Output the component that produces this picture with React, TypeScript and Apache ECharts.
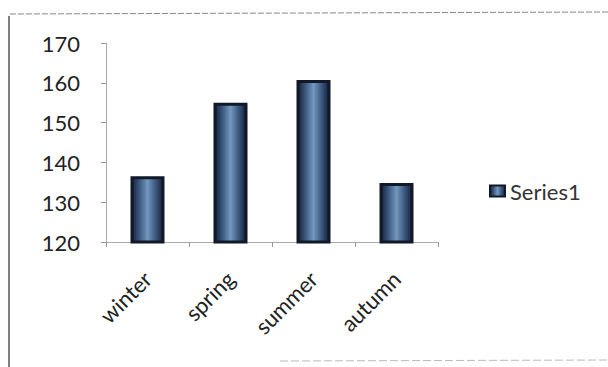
import React, { useEffect, useRef } from "react";
import * as echarts from "echarts";

const categories = ["winter", "spring", "summer", "autumn"];
const series1 = [136.5, 155, 160.7, 134.8];
const yTicks = { min: 120, max: 170, interval: 10 };
const seriesName = "Series1";

export default function App() {
  const ref = useRef<HTMLDivElement>(null);
  useEffect(() => {
    if (!ref.current) return;
    const chart = echarts.init(ref.current, null, { renderer: "svg" });
    const barFill = new echarts.graphic.LinearGradient(0, 0, 1, 0, [
      { offset: 0, color: "#16203a" },
      { offset: 0.25, color: "#3d5b82" },
      { offset: 0.5, color: "#7397bf" },
      { offset: 0.75, color: "#3d5b82" },
      { offset: 1, color: "#16203a" },
    ]);
    chart.setOption({
      animation: false,
      backgroundColor: "#ffffff",
      textStyle: { fontFamily: "Lato, 'Open Sans', sans-serif" },
      grid: { left: 106, right: 170, top: 43, bottom: 125 },
      legend: {
        data: [seriesName],
        left: 484,
        top: 175,
        icon: "rect",
        itemWidth: 15,
        itemHeight: 11,
        itemGap: 6,
        textStyle: { fontSize: 22, color: "#333", fontFamily: "Lato, sans-serif" },
      },
      xAxis: {
        type: "category",
        data: categories,
        axisLine: { lineStyle: { color: "#aaa", width: 1 } },
        axisTick: { show: true, length: 5, lineStyle: { color: "#999" } },
        axisLabel: {
          rotate: 45,
          fontSize: 22,
          color: "#222",
          margin: 33,
        },
      },
      yAxis: {
        type: "value",
        min: yTicks.min,
        max: yTicks.max,
        interval: yTicks.interval,
        splitLine: { show: false },
        axisLine: { show: true, lineStyle: { color: "#aaa", width: 1 } },
        axisTick: { show: true, length: 5, lineStyle: { color: "#999" } },
        axisLabel: { fontSize: 22, color: "#222", margin: 26 },
      },
      series: [
        {
          name: seriesName,
          type: "bar",
          data: series1,
          barWidth: 34,
          itemStyle: {
            color: barFill,
            borderColor: "#111827",
            borderWidth: 3,
          },
        },
      ],
      graphic: [
        {
          type: "line",
          shape: { x1: 9, y1: 16, x2: 9, y2: 367 },
          style: { stroke: "#555", lineWidth: 1.5 },
          silent: true,
        },
        {
          type: "line",
          shape: { x1: 10, y1: 14, x2: 608, y2: 12 },
          style: { stroke: "#888", lineWidth: 1, lineDash: [6, 2] },
          silent: true,
        },
        {
          type: "line",
          shape: { x1: 280, y1: 361, x2: 608, y2: 360 },
          style: { stroke: "#bbb", lineWidth: 1, lineDash: [8, 3] },
          silent: true,
        },
      ],
    });
    return () => chart.dispose();
  }, []);
  return (
    <div
      ref={ref}
      style={{ position: "fixed", left: 0, top: 0, width: 608, height: 367 }}
    />
  );
}
